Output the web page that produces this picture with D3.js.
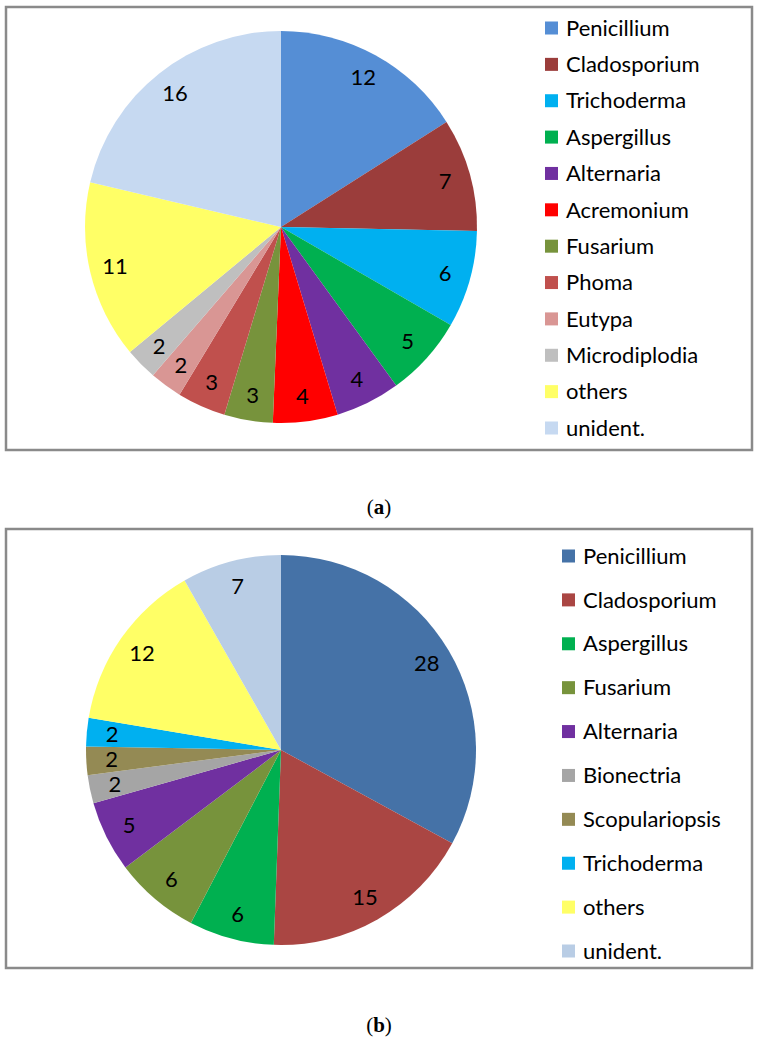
<!DOCTYPE html>
<html>
<head>
<meta charset="utf-8">
<script src="https://cdn.jsdelivr.net/npm/d3@7"></script>
<style>
  html, body { margin: 0; padding: 0; background: #fff; }
  svg { display: block; }
</style>
</head>
<body>
<div id="chart"></div>
<script>
// panel (a)
var genusA = ["Penicillium","Cladosporium","Trichoderma","Aspergillus","Alternaria","Acremonium","Fusarium","Phoma","Eutypa","Microdiplodia","others","unident."]
var countA = [12,7,6,5,4,4,3,3,2,2,11,16]
var colorA = ["#558ed5","#9b3d3b","#00b0f0","#00b050","#7030a0","#ff0000","#77933c","#c0504d","#d99694","#bfbfbf","#ffff66","#c6d9f1"]

// panel (b)
var genusB = ["Penicillium","Cladosporium","Aspergillus","Fusarium","Alternaria","Bionectria","Scopulariopsis","Trichoderma","others","unident."]
var countB = [28,15,6,6,5,2,2,2,12,7]
var colorB = ["#4572a7","#aa4643","#00b050","#77933c","#7030a0","#a5a5a5","#948a54","#00b0f0","#ffff66","#b9cde5"]

var panelTags = ["a","b"]

var width = 758, height = 1043
var font = "Lato, 'Open Sans', sans-serif"

var svg = d3.select("#chart").append("svg")
    .attr("width", width).attr("height", height)

function draw_panel(cfg){
    var g = svg.append("g")

    // frame
    g.append("rect")
        .attr("x", cfg.box[0]).attr("y", cfg.box[1])
        .attr("width", cfg.box[2]).attr("height", cfg.box[3])
        .attr("fill", "none")
        .attr("stroke", "#8a8a8a")
        .attr("stroke-width", 2.5)

    var pie = d3.pie().sort(null).value(d => d.v)
    var arcs = pie(cfg.names.map((n,i) => ({name:n, v:cfg.values[i], c:cfg.colors[i]})))

    var arc = d3.arc().innerRadius(0).outerRadius(cfg.r)
    var labelArc = d3.arc().innerRadius(cfg.r*0.87).outerRadius(cfg.r*0.87)

    var pg = g.append("g").attr("transform", "translate(" + cfg.cx + "," + cfg.cy + ")")

    pg.selectAll(".slice")
        .data(arcs)
        .enter()
        .append("path")
        .attr("class","slice")
        .attr("d", arc)
        .attr("fill", d => d.data.c)

    pg.selectAll(".lbl")
        .data(arcs)
        .enter()
        .append("text")
        .attr("class","lbl")
        .attr("transform", d => "translate(" + labelArc.centroid(d) + ")")
        .attr("text-anchor","middle")
        .attr("dy","0.35em")
        .style("font-family", font)
        .style("font-size","22px")
        .style("fill","#000")
        .text(d => d.data.v)

    // legend
    var y = d3.scalePoint().domain(cfg.names).range(cfg.legendY)
    var lg = g.selectAll(".leg")
        .data(cfg.names)
        .enter()
        .append("g")
        .attr("transform", d => "translate(" + cfg.legendX + "," + y(d) + ")")

    lg.append("rect")
        .attr("x", 0).attr("y", -6.5)
        .attr("width", 13).attr("height", 13)
        .attr("fill", (d,i) => cfg.colors[i])

    lg.append("text")
        .attr("x", 21)
        .attr("dy", "0.35em")
        .style("font-family", font)
        .style("font-size","22px")
        .style("fill","#000")
        .text(d => d)

    // caption
    var cap = svg.append("text")
        .attr("x", 379).attr("y", cfg.capY)
        .attr("text-anchor","middle")
        .style("font-family","'Liberation Serif', serif")
        .style("font-size","21px")
    cap.append("tspan").text("(")
    cap.append("tspan").style("font-weight","bold").text(cfg.tag)
    cap.append("tspan").text(")")
}

draw_panel({names:genusA, values:countA, colors:colorA, tag:panelTags[0],
    box:[6,7,746,443], cx:281, cy:227, r:196,
    legendX:545, legendY:[28,428], capY:514})

draw_panel({names:genusB, values:countB, colors:colorB, tag:panelTags[1],
    box:[6,529,746,439], cx:281, cy:750, r:195,
    legendX:562, legendY:[556,951], capY:1032})
</script>
</body>
</html>
